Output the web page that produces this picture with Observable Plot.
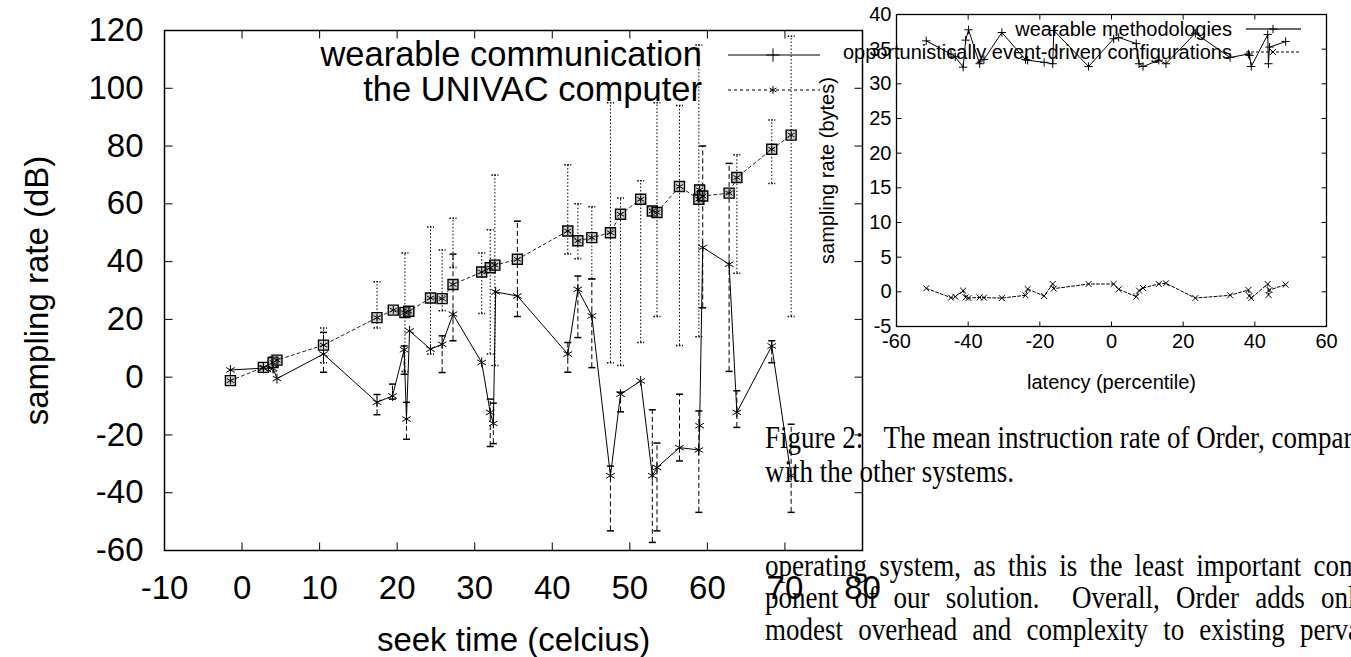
<!DOCTYPE html>
<html><head><meta charset="utf-8">
<script src="https://cdn.jsdelivr.net/npm/d3@7"></script>
<script src="https://cdn.jsdelivr.net/npm/@observablehq/plot@0.6"></script>
<style>
html,body{margin:0;padding:0;background:#fff;width:1351px;height:657px;overflow:hidden;}
#wrap{position:relative;width:1351px;height:657px;overflow:hidden;}
#wrap svg{position:absolute;left:0;top:0;}
.txt{position:absolute;left:765px;font-family:"Liberation Serif","Times New Roman",serif;font-size:27px;line-height:27px;white-space:nowrap;color:#000;transform:scaleY(1.15);transform-origin:0 22px;}
.just{width:604px;text-align:justify;text-align-last:justify;}
</style></head>
<body><div id="wrap">
<div class="txt" style="top:426px">Figure 2:&nbsp;&nbsp;&nbsp;The mean instruction rate of Order, compared</div>
<div class="txt" style="top:460px">with the other systems.</div>
<div class="txt just" style="top:554px">operating system, as this is the least important com-</div>
<div class="txt just" style="top:586px">ponent of our solution.&nbsp; Overall, Order adds only</div>
<div class="txt just" style="top:618px">modest overhead and complexity to existing perva-</div>
</div>
<script>
// ---------- Main chart data ----------
const mainLegend = ["wearable communication", "the UNIVAC computer"];
const seekTimeA = [-1.5, 2.75, 4.0, 4.5, 10.5, 17.4, 19.4, 20.9, 21.2, 21.6, 24.3, 25.8, 27.2, 30.9, 32.0, 32.4, 32.7, 35.5, 42.0, 43.3, 45.1, 47.5, 48.8, 51.4, 52.9, 53.5, 56.4, 58.9, 59.0, 59.4, 62.8, 63.8, 68.3, 70.8];
const rateA = [2.5, 3.1, 3.0, -0.5, 8.0, -8.7, -6.5, 9.5, -14.5, 16.0, 9.7, 11.4, 21.8, 5.1, -12.2, -16.0, 29.5, 28.1, 8.0, 30.4, 21.2, -34.1, -5.9, -1.3, -34.1, -31.3, -24.4, -25.2, -16.8, 44.9, 39.1, -12.2, 10.8, -34.1];
const rateALow = [null, null, null, null, 1.7, -13, -7.6, 1, -21.5, null, null, 1.6, 12.6, null, -24, -23, null, 21, 1.7, 13.7, 3.3, -53.2, -12, null, -57.2, -53.2, -29, -46.8, null, 24, 2, -17.4, 5, -46.8];
const rateAHigh = [null, null, null, null, 15.5, -6, -2.4, 10.8, -8.7, null, null, 14.3, 42.6, null, -7.6, -9, null, 54, 12, 35, 34, -30.8, -5.2, null, -11.3, -22.8, -5.9, -11.7, null, 80, 74, -4.7, 12.6, -16.3];

const seekTimeB = [-1.5, 2.75, 4.0, 4.5, 10.5, 17.4, 19.5, 21.0, 21.5, 24.3, 25.8, 27.2, 30.9, 32.0, 32.6, 35.5, 42.0, 43.3, 45.1, 47.5, 48.8, 51.4, 52.9, 53.5, 56.4, 58.9, 59.0, 59.4, 62.8, 63.8, 68.3, 70.8];
const rateB = [-1.2, 3.4, 5.1, 5.9, 11.1, 20.6, 23.2, 22.4, 22.8, 27.4, 27.2, 32.1, 36.4, 37.9, 38.8, 40.8, 50.6, 47.2, 48.3, 50.0, 56.4, 61.6, 57.5, 57.0, 66.0, 61.6, 64.8, 62.7, 63.7, 69.1, 78.9, 83.8];
const rateBLow = [null, null, 2, null, 5, 17, null, 2, null, 8, 23, 38, 22, 8, 4, null, 42.6, 41, 34, 5, 4, 12, null, 21, 11, 14, null, null, null, 36, 67, 21];
const rateBHigh = [null, null, 7, null, 17, 33, null, 43, null, 52, 44, 55, 43, 51, 70, null, 73.5, 60, 59, 95, 62, 68, null, 95, 94, 115, null, null, null, 77, 89, 118];

const mainXTicks = [-10, 0, 10, 20, 30, 40, 50, 60, 70, 80];
const mainYTicks = [-60, -40, -20, 0, 20, 40, 60, 80, 100, 120];

// ---------- Inset chart data ----------
const insetLegend = ["wearable methodologies", "opportunistically event-driven configurations"];
const latency = [-51.7, -44.8, -43.6, -41.4, -40.7, -39.9, -36.8, -35.6, -30.6, -24.0, -23.4, -18.8, -16.4, -16.1, -6.4, 0.6, 2.0, 6.9, 7.7, 8.8, 13.2, 15.2, 23.4, 33.1, 38.2, 38.5, 39.0, 43.6, 43.8, 44.1, 48.6];
const rateWearable = [36.2, 34.3, 33.9, 32.4, 36.3, 37.8, 32.9, 33.5, 37.4, 33.5, 33.4, 33.1, 32.9, 37.7, 32.5, 36.5, 36.7, 35.8, 32.9, 32.5, 33.4, 32.9, 37.3, 33.8, 34.3, 34.1, 32.5, 37.1, 32.9, 35.3, 36.1];
const rateOpportunistic = [0.5, -0.84, -0.7, 0.17, -0.8, -0.9, -0.8, -0.84, -0.9, -0.5, 0.4, -0.6, 1.13, 0.46, 1.13, 1.13, 0.37, -0.7, 0.17, 0.56, 1.13, 1.23, -0.9, -0.5, 0.27, -0.6, -0.9, 1.13, -0.45, 0.27, 1.04];
const insetXTicks = [-60, -40, -20, 0, 20, 40, 60];
const insetYTicks = [-5, 0, 5, 10, 15, 20, 25, 30, 35, 40];

// ---------- helpers ----------
const segUp = {draw(c, s) {const l = Math.sqrt(s / Math.PI); c.moveTo(0, 0); c.lineTo(0, -l);}};
const segDown = {draw(c, s) {const l = Math.sqrt(s / Math.PI); c.moveTo(0, 0); c.lineTo(0, l);}};
const segRight = {draw(c, s) {const l = Math.sqrt(s / Math.PI); c.moveTo(0, 0); c.lineTo(l, 0);}};
const segLeft = {draw(c, s) {const l = Math.sqrt(s / Math.PI); c.moveTo(0, 0); c.lineTo(-l, 0);}};
const hbar = {draw(c, s) {const l = Math.sqrt(s / Math.PI); c.moveTo(-l, 0); c.lineTo(l, 0);}};

function tickMarks(xt, yt, xd, yd, len) {
  const o = {fill: "none", stroke: "black", strokeWidth: 1, r: len};
  return [
    Plot.dot(xt, {...o, x: d => d, y: yd[0], symbol: segUp}),
    Plot.dot(xt, {...o, x: d => d, y: yd[1], symbol: segDown}),
    Plot.dot(yt, {...o, y: d => d, x: xd[0], symbol: segRight}),
    Plot.dot(yt, {...o, y: d => d, x: xd[1], symbol: segLeft})
  ];
}

const A = seekTimeA.map((x, i) => ({x, y: rateA[i], lo: rateALow[i], hi: rateAHigh[i]}));
const B = seekTimeB.map((x, i) => ({x, y: rateB[i], lo: rateBLow[i], hi: rateBHigh[i]}));
const Aerr = A.filter(d => d.lo != null);
const Berr = B.filter(d => d.lo != null);
const fmt = d => String(d);

const mainXDom = [-10, 80], mainYDom = [-60, 120];
const main = Plot.plot({
  width: 1351, height: 657,
  marginLeft: 164, marginRight: 489, marginTop: 30, marginBottom: 107,
  style: {fontFamily: "'Liberation Sans', Arial, sans-serif", fontSize: "33px", background: "transparent", color: "black", overflow: "visible"},
  x: {domain: mainXDom},
  y: {domain: mainYDom},
  marks: [
    Plot.frame({stroke: "black", strokeWidth: 1.5}),
    Plot.axisX({ticks: mainXTicks, tickSize: 0, tickPadding: 25, tickFormat: fmt,
      label: "seek time (celcius)", labelAnchor: "center", labelOffset: 100, labelArrow: "none"}),
    Plot.axisY({ticks: mainYTicks, tickSize: 0, tickPadding: 21, tickFormat: fmt,
      label: "sampling rate (dB)", labelAnchor: "center", labelOffset: 140, labelArrow: "none"}),
    ...tickMarks(mainXTicks, mainYTicks, mainXDom, mainYDom, 8),
    // error bars
    Plot.ruleX(Berr, {x: "x", y1: "lo", y2: "hi", stroke: "black", strokeWidth: 1, strokeDasharray: "1.5,2"}),
    Plot.dot(Berr, {x: "x", y: "lo", symbol: hbar, r: 3.5, stroke: "black", fill: "none", strokeDasharray: "1.5,1.5"}),
    Plot.dot(Berr, {x: "x", y: "hi", symbol: hbar, r: 3.5, stroke: "black", fill: "none", strokeDasharray: "1.5,1.5"}),
    Plot.ruleX(Aerr, {x: "x", y1: "lo", y2: "hi", stroke: "black", strokeWidth: 1, strokeDasharray: "5,3"}),
    Plot.dot(Aerr, {x: "x", y: "lo", symbol: hbar, r: 3.5, stroke: "black", fill: "none"}),
    Plot.dot(Aerr, {x: "x", y: "hi", symbol: hbar, r: 3.5, stroke: "black", fill: "none"}),
    // lines
    Plot.line(B, {x: "x", y: "y", stroke: "#222", strokeWidth: 1, strokeDasharray: "3,3"}),
    Plot.line(A, {x: "x", y: "y", stroke: "black", strokeWidth: 1}),
    // markers
    Plot.dot(B, {x: "x", y: "y", symbol: "square", r: 5.64, stroke: "black", strokeWidth: 1.4, fill: "#999", fillOpacity: 0.45}),
    Plot.dot(B, {x: "x", y: "y", symbol: "asterisk", r: 3.8, stroke: "black", strokeWidth: 1}),
    Plot.dot(A, {x: "x", y: "y", symbol: "asterisk", r: 4.7, stroke: "black", strokeWidth: 1})
  ]
});

// main legend (top-right, inside frame)
{
  const g = d3.select(main).append("g").attr("font-size", 34.5).attr("fill", "black");
  const rows = [{ty: 66, ly: 55, dash: null, sym: d3.symbolPlus, size: 60},
                {ty: 101, ly: 90, dash: "3,3", sym: d3.symbolAsterisk, size: 45}];
  rows.forEach((r, i) => {
    g.append("text").attr("x", 702).attr("y", r.ty).attr("text-anchor", "end").text(mainLegend[i]);
    g.append("line").attr("x1", 728).attr("x2", 820).attr("y1", r.ly).attr("y2", r.ly)
      .attr("stroke", "black").attr("stroke-width", 1).attr("stroke-dasharray", r.dash);
    g.append("path").attr("transform", `translate(773,${r.ly})`).attr("d", d3.symbol(r.sym, r.size)())
      .attr("fill", "none").attr("stroke", "black");
  });
}

const inXDom = [-60, 60], inYDom = [-5, 40];
const inset = Plot.plot({
  width: 1351, height: 657,
  marginLeft: 896, marginRight: 25, marginTop: 14, marginBottom: 331,
  style: {fontFamily: "'Liberation Sans', Arial, sans-serif", fontSize: "20px", background: "transparent", color: "black", overflow: "visible"},
  x: {domain: inXDom},
  y: {domain: inYDom},
  marks: [
    Plot.frame({stroke: "black", strokeWidth: 1.3}),
    Plot.axisX({ticks: insetXTicks, tickSize: 0, tickPadding: 7, tickFormat: fmt,
      label: "latency (percentile)", labelAnchor: "center", labelOffset: 62, labelArrow: "none"}),
    Plot.axisY({ticks: insetYTicks, tickSize: 0, tickPadding: 5, tickFormat: fmt,
      label: "sampling rate (bytes)", labelAnchor: "center", labelOffset: 77, labelArrow: "none"}),
    ...tickMarks(insetXTicks, insetYTicks, inXDom, inYDom, 5),
    Plot.line(latency, {x: d => d, y: (d, i) => rateWearable[i], stroke: "black", strokeWidth: 1}),
    Plot.dot(latency, {x: d => d, y: (d, i) => rateWearable[i], symbol: "plus", r: 2.8, stroke: "black", strokeWidth: 1}),
    Plot.line(latency, {x: d => d, y: (d, i) => rateOpportunistic[i], stroke: "black", strokeWidth: 1, strokeDasharray: "3,2"}),
    Plot.dot(latency, {x: d => d, y: (d, i) => rateOpportunistic[i], symbol: "times", r: 2.8, stroke: "black", strokeWidth: 1})
  ]
});

{
  const g = d3.select(inset).append("g").attr("font-size", 20).attr("fill", "black");
  const rows = [{ty: 36, ly: 29, dash: null, sym: d3.symbolPlus, size: 25, col: "#666", sw: 2},
                {ty: 59, ly: 52, dash: "3,2", sym: d3.symbolTimes, size: 25, col: "black", sw: 1}];
  rows.forEach((r, i) => {
    g.append("text").attr("x", 1232).attr("y", r.ty).attr("text-anchor", "end").text(insetLegend[i]);
    g.append("line").attr("x1", 1246).attr("x2", 1301).attr("y1", r.ly).attr("y2", r.ly)
      .attr("stroke", r.col).attr("stroke-width", r.sw).attr("stroke-dasharray", r.dash);
    g.append("path").attr("transform", `translate(1273,${r.ly})`).attr("d", d3.symbol(r.sym, r.size)())
      .attr("fill", "none").attr("stroke", "black");
  });
}

const wrap = document.getElementById("wrap");
wrap.insertBefore(inset, wrap.firstChild);
wrap.insertBefore(main, wrap.firstChild);
</script></body></html>
